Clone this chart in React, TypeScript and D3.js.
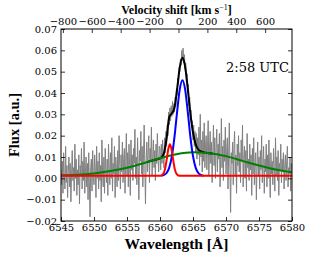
import React, { useRef, useEffect } from "react";
import * as d3 from "d3";

// observed spectrum, 6545.0 .. 6580.0 A in 0.1 A steps (flux x 1e-3)
const specStart = 6545.0;
const specStep = 0.1;
const specFlux = [
  4, -3, 8, -7, 12, 1, -5, 15, -2, 6,
  -9, 3, 10, -4, 7, -11, 2, 13, -1, 5,
  -6, 16, 0, 9, -8, 4, -3, 11, -12, 6,
  2, 14, -5, 8, -1, 17, -7, 3, 10, -4,
  7, -10, 12, -2, -18, 5, 9, -6, 13, 1,
  -3, 11, 4, -9, 15, 0, 8, -5, 12, -1,
  6, -11, 18, 2, -4, 10, -7, 14, 3, -2,
  9, -8, 16, 5, -3, 12, 0, 19, -6, 7,
  2, 15, -9, 10, 4, -4, 13, -1, 20, 6,
  -5, 11, 3, 17, -2, 9, 14, -7, 8, 21,
  1, 12, -4, 16, 6, -8, 18, 4, 11, -1,
  14, 7, 23, 0, 10, -3, 19, 5, -10, 13,
  8, 22, 2, 15, -4, 11, 25, 6, -12, 9,
  17, 3, 12, 20, -2, 14, 8, 24, 1, 10,
  18, 5, 13, -1, 16, 7, 21, 9, 3, 15,
  14, 4, 16, 7, 18, 9, 5, 19, 12, 22,
  15, 25, 20, 31, 25, 33, 27, 34, 29, 36,
  30, 35, 31, 38, 34, 42, 39, 47, 44, 52,
  50, 56, 53, 60, 55, 61, 54, 58, 51, 54,
  46, 49, 40, 44, 34, 38, 29, 32, 24, 27,
  18, 25, 15, 22, 12, 21, 9, 19, 11, 24,
  6, 30, 10, 18, 3, 22, 8, 26, 5, 16,
  20, 4, 15, 27, 1, 13, 22, 7, 17, -2,
  12, 25, 6, 19, 0, 14, 23, 3, 16, 9,
  21, -4, 11, 28, 5, 15, -1, 18, 8, 24,
  2, 13, 19, -5, 10, 26, 4, -16, 12, 7,
  17, -3, 14, 22, 1, 11, -7, 16, 6, 20,
  3, 12, -2, 18, 8, 25, -4, 10, 15, 0,
  13, -6, 21, 5, 9, -1, 16, 4, 11, -8,
  14, 2, 19, -3, 8, 12, -10, 6, 17, 1,
  10, -5, 13, 4, 20, -2, 7, 15, -7, 9,
  3, 16, -4, 11, 0, 18, 5, -9, 12, 2,
  8, -3, 14, 6, -6, 19, 1, 10, -1, 13,
  -8, 7, 4, 16, -2, 9, 3, 12, -5, 6,
  11, -1, 8, 15, -4, 5, 2, 10, -6, 7, 3,
];

// fitted components
const totalWave = [6558.0, 6559.0, 6559.8, 6560.2, 6560.6, 6561.0, 6561.4, 6561.8, 6562.2, 6562.6, 6563.0, 6563.4, 6563.8, 6564.2, 6564.6, 6565.0, 6565.4, 6565.8, 6566.2, 6566.6, 6567.0, 6568.0];
const totalFlux = [0.0076, 0.0085, 0.0092, 0.0098, 0.0118, 0.0188, 0.0287, 0.0305, 0.0332, 0.042, 0.0521, 0.0565, 0.0525, 0.0422, 0.0305, 0.0214, 0.016, 0.0135, 0.0126, 0.0122, 0.012, 0.0116];

const broadWave = [6545, 6547.5, 6550, 6552.5, 6555, 6557.5, 6560, 6562.5, 6565, 6567.5, 6570, 6572.5, 6575, 6577.5, 6580];
const broadFlux = [0.0014, 0.0017, 0.0023, 0.0034, 0.005, 0.0071, 0.0094, 0.0113, 0.0122, 0.0118, 0.0104, 0.0082, 0.006, 0.0041, 0.0028];

const narrowWave = [6560.2, 6560.6, 6561.0, 6561.4, 6561.8, 6562.2, 6562.6, 6563.0, 6563.4, 6563.8, 6564.2, 6564.6, 6565.0, 6565.4, 6565.8, 6566.2, 6566.6];
const narrowFlux = [0.0012, 0.0016, 0.0025, 0.005, 0.0104, 0.0196, 0.0314, 0.0418, 0.046, 0.0418, 0.0314, 0.0196, 0.0104, 0.005, 0.0025, 0.0016, 0.0012];

const blueWingWave = [6545, 6560.0, 6560.25, 6560.5, 6560.75, 6561.0, 6561.25, 6561.5, 6561.75, 6562.0, 6562.25, 6562.5, 6562.75, 6563.0, 6580];
const blueWingFlux = [0.0012, 0.0012, 0.0014, 0.0021, 0.0042, 0.0085, 0.0136, 0.016, 0.0136, 0.0085, 0.0042, 0.0021, 0.0014, 0.0012, 0.0012];

const yTicks = [-0.02, -0.01, 0.0, 0.01, 0.02, 0.03, 0.04, 0.05, 0.06, 0.07];
const xTicks = [6545, 6550, 6555, 6560, 6565, 6570, 6575, 6580];
const vTicks = [-800, -600, -400, -200, 0, 200, 400, 600];
const restWave = 6562.8;
const cLight = 299792.458;

const W = 311;
const H = 256;
const margin = { top: 29, right: 19, bottom: 35, left: 61 };
const font = "'DejaVu Serif', serif";
const titleFont = "'Liberation Serif', 'Times New Roman', serif";

export default function App() {
  const svgRef = useRef<SVGSVGElement>(null);

  useEffect(() => {
    const svg = d3.select(svgRef.current);
    svg.selectAll("*").remove();

    const x = d3.scaleLinear().domain([6545, 6580]).range([margin.left, W - margin.right]);
    const y = d3.scaleLinear().domain([-0.02, 0.07]).range([H - margin.bottom, margin.top]);
    const toV = (l: number) => (cLight * (l - restWave)) / restWave;
    const v = d3.scaleLinear().domain([toV(6545), toV(6580)]).range(x.range());

    svg.append("defs").append("clipPath").attr("id", "plot-clip")
      .append("rect")
      .attr("x", margin.left).attr("y", margin.top)
      .attr("width", W - margin.left - margin.right)
      .attr("height", H - margin.top - margin.bottom);

    const plot = svg.append("g").attr("clip-path", "url(#plot-clip)");

    const spec = specFlux.map((f, i) => ({ l: specStart + i * specStep, f: f / 1000 }));
    plot.append("path")
      .datum(spec)
      .attr("fill", "none")
      .attr("stroke", "#808080")
      .attr("stroke-width", 1)
      .attr("d", d3.line<{ l: number; f: number }>().x((d) => x(d.l)).y((d) => y(d.f)));

    const smooth = d3.line<[number, number]>()
      .x((d) => x(d[0]))
      .y((d) => y(d[1]))
      .curve(d3.curveMonotoneX);

    const curves: [number[], number[], string][] = [
      [totalWave, totalFlux, "#000000"],
      [broadWave, broadFlux, "#008000"],
      [narrowWave, narrowFlux, "#0000ff"],
      [blueWingWave, blueWingFlux, "#ff0000"],
    ];
    curves.forEach(([wl, fl, color]) => {
      plot.append("path")
        .datum(wl.map((l, i) => [l, fl[i]] as [number, number]))
        .attr("fill", "none")
        .attr("stroke", color)
        .attr("stroke-width", 2)
        .attr("d", smooth);
    });

    const styleAxis = (g: any) => {
      g.select(".domain").remove();
      g.selectAll("line").attr("stroke", "#000").attr("stroke-width", 0.8);
      g.selectAll("text").attr("font-family", font).attr("font-size", 10).attr("fill", "#000");
    };

    svg.append("g")
      .attr("transform", `translate(0,${H - margin.bottom})`)
      .call(d3.axisBottom(x).tickValues(xTicks).tickFormat(d3.format("d")).tickSize(-4).tickPadding(3))
      .call(styleAxis);

    svg.append("g")
      .attr("transform", `translate(0,${margin.top})`)
      .call(d3.axisTop(v).tickValues(vTicks).tickFormat(d3.format("d")).tickSize(-4).tickPadding(4))
      .call(styleAxis);

    svg.append("g")
      .attr("transform", `translate(${margin.left},0)`)
      .call(d3.axisLeft(y).tickValues(yTicks).tickFormat(d3.format(".2f")).tickSize(-4).tickPadding(4))
      .call(styleAxis);

    svg.append("g")
      .attr("transform", `translate(${W - margin.right},0)`)
      .call(d3.axisRight(y).tickValues(yTicks).tickFormat(() => "").tickSize(-4))
      .call(styleAxis);

    svg.append("rect")
      .attr("x", margin.left).attr("y", margin.top)
      .attr("width", W - margin.left - margin.right)
      .attr("height", H - margin.top - margin.bottom)
      .attr("fill", "none")
      .attr("stroke", "#000")
      .attr("stroke-width", 1);

    svg.append("text")
      .attr("x", 226).attr("y", 72)
      .attr("font-family", font).attr("font-size", 13)
      .text("2:58 UTC");

    const vt = svg.append("text")
      .attr("x", (margin.left + W - margin.right) / 2).attr("y", 14)
      .attr("text-anchor", "middle")
      .attr("font-family", titleFont).attr("font-size", 12).attr("font-weight", "bold");
    vt.append("tspan").text("Velocity shift [km s");
    vt.append("tspan").attr("dy", -4).attr("font-size", 8).attr("font-weight", "normal").text("−1");
    vt.append("tspan").attr("dy", 4).text("]");

    svg.append("text")
      .attr("x", (margin.left + W - margin.right) / 2).attr("y", 249)
      .attr("text-anchor", "middle")
      .attr("font-family", titleFont).attr("font-size", 15.5).attr("font-weight", "bold")
      .text("Wavelength [Å]");

    svg.append("text")
      .attr("transform", `translate(19,${(margin.top + H - margin.bottom) / 2}) rotate(-90)`)
      .attr("text-anchor", "middle")
      .attr("font-family", titleFont).attr("font-size", 14.5).attr("font-weight", "bold")
      .text("Flux [a.u.]");
  }, []);

  return (
    <svg
      ref={svgRef}
      width={W}
      height={H}
      style={{ position: "absolute", left: 0, top: 0, background: "#fff" }}
    />
  );
}
